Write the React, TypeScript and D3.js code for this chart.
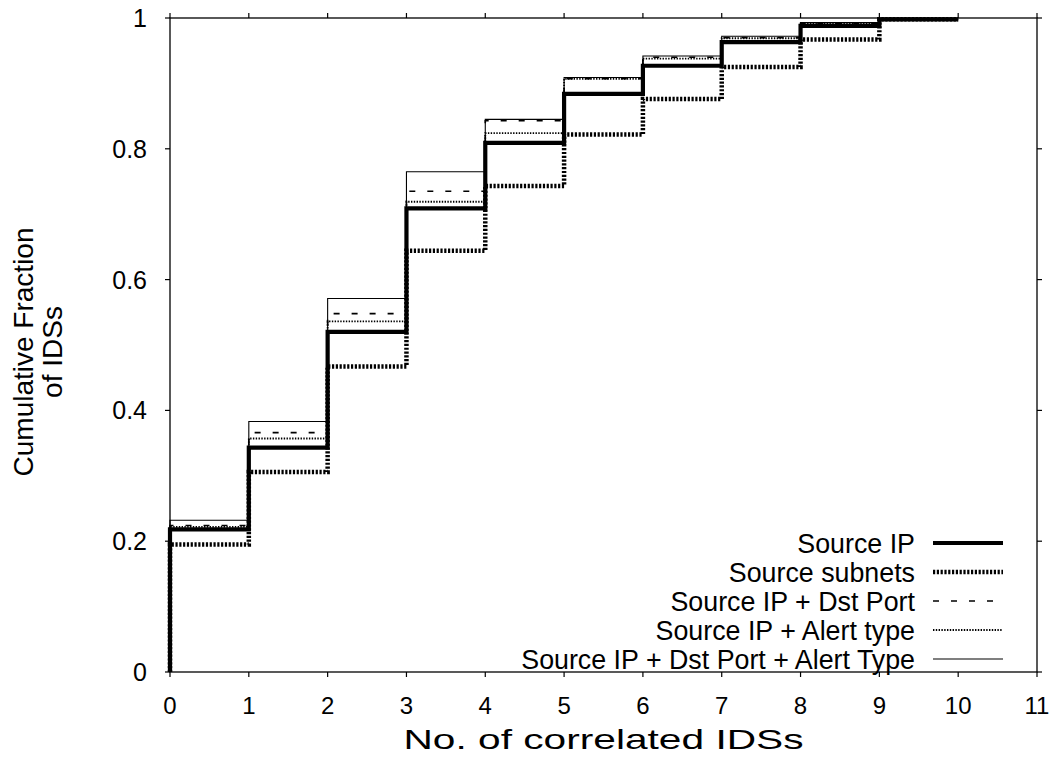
import React from "react";
import * as d3 from "d3";

// x = number of correlated IDSs (step starts at k), y = cumulative fraction
const xTicks = [0, 1, 2, 3, 4, 5, 6, 7, 8, 9, 10, 11];
const yTicks = [0, 0.2, 0.4, 0.6, 0.8, 1];

const seriesNames = [
  "Source IP",
  "Source subnets",
  "Source IP + Dst Port",
  "Source IP + Alert type",
  "Source IP + Dst Port + Alert Type",
];

const sourceIP = [0.218, 0.343, 0.52, 0.709, 0.809, 0.884, 0.927, 0.963, 0.988, 0.998];
const sourceSubnets = [0.195, 0.306, 0.467, 0.644, 0.743, 0.822, 0.876, 0.925, 0.967, 0.998];
const srcDstPort = [0.224, 0.366, 0.548, 0.735, 0.843, 0.907, 0.94, 0.97, 0.992, 0.998];
const srcAlertType = [0.222, 0.357, 0.536, 0.719, 0.824, 0.907, 0.938, 0.969, 0.991, 0.998];
const srcDstAlert = [0.232, 0.383, 0.571, 0.765, 0.845, 0.909, 0.942, 0.972, 0.993, 0.998];

const seriesValues = [sourceIP, sourceSubnets, srcDstPort, srcAlertType, srcDstAlert];

const styles = [
  { width: 4.2, dash: "none" },
  { width: 4.5, dash: "2.2,1.6" },
  { width: 1.6, dash: "6,12" },
  { width: 1.8, dash: "1.4,1.4" },
  { width: 1.1, dash: "none" },
];

const W = 1056;
const H = 761;
const m = { left: 170, right: 1037, top: 18, bottom: 672 };
const font = "'Liberation Sans', Arial, Helvetica, sans-serif";

export default function App() {
  const x = d3.scaleLinear().domain([0, 11]).range([m.left, m.right]);
  const y = d3.scaleLinear().domain([0, 1]).range([m.bottom, m.top]);

  const line = d3
    .line<[number, number]>()
    .x((d) => x(d[0]))
    .y((d) => y(d[1]))
    .curve(d3.curveStepAfter);

  const toPoints = (vals: number[]): [number, number][] => {
    const pts: [number, number][] = [[0, 0]];
    vals.forEach((v, i) => pts.push([i, v]));
    pts.push([vals.length, vals[vals.length - 1]]);
    return pts;
  };

  const legendY = (i: number) => 543 + i * 29;
  const tick = 5;

  return (
    <div style={{ position: "absolute", left: 0, top: 0 }}>
      <svg width={W} height={H} style={{ display: "block", background: "#fff" }}>
        <g fill="none" stroke="#000">
          {seriesValues.map((vals, i) => (
            <path
              key={seriesNames[i]}
              d={line(toPoints(vals)) || ""}
              strokeWidth={styles[i].width}
              strokeDasharray={styles[i].dash}
            />
          ))}
        </g>

        {/* frame */}
        <rect
          x={m.left}
          y={m.top}
          width={m.right - m.left}
          height={m.bottom - m.top}
          fill="none"
          stroke="#000"
          strokeWidth={1.3}
        />

        {/* ticks, mirrored on all sides */}
        <g stroke="#000" strokeWidth={1.2}>
          {xTicks.map((t) => (
            <g key={"xt" + t}>
              <line x1={x(t)} x2={x(t)} y1={m.bottom} y2={m.bottom + tick} />
              <line x1={x(t)} x2={x(t)} y1={m.top} y2={m.top - tick} />
            </g>
          ))}
          {yTicks.map((t) => (
            <g key={"yt" + t}>
              <line x1={m.left} x2={m.left - tick} y1={y(t)} y2={y(t)} />
              <line x1={m.right} x2={m.right + tick} y1={y(t)} y2={y(t)} />
            </g>
          ))}
        </g>

        <g fontFamily={font} fill="#000">
          {xTicks.map((t) => (
            <text key={"xl" + t} x={x(t)} y={m.bottom + 42} textAnchor="middle" fontSize={24}>
              {t}
            </text>
          ))}
          {yTicks.map((t) => (
            <text
              key={"yl" + t}
              x={m.left - 23}
              y={y(t)}
              dy="0.36em"
              textAnchor="end"
              fontSize={25}
            >
              {d3.format("")(t)}
            </text>
          ))}
          <text
            x={(m.left + m.right) / 2}
            y={749}
            textAnchor="middle"
            fontSize={28}
            textLength={400}
            lengthAdjust="spacingAndGlyphs"
          >
            No. of correlated IDSs
          </text>
          <g transform="translate(0, 352) rotate(-90)" fontSize={28}>
            <text x={0} y={33} textAnchor="middle">Cumulative Fraction</text>
            <text x={0} y={62} textAnchor="middle">of IDSs</text>
          </g>
        </g>

        {/* legend */}
        <g fontFamily={font} fontSize={26.8}>
          {seriesNames.map((name, i) => (
            <g key={"lg" + i}>
              <text x={915} y={legendY(i)} dy="0.36em" textAnchor="end">
                {name}
              </text>
              <line
                x1={933}
                x2={1003}
                y1={legendY(i)}
                y2={legendY(i)}
                stroke="#000"
                strokeWidth={styles[i].width}
                strokeDasharray={styles[i].dash}
              />
            </g>
          ))}
        </g>
      </svg>
    </div>
  );
}
